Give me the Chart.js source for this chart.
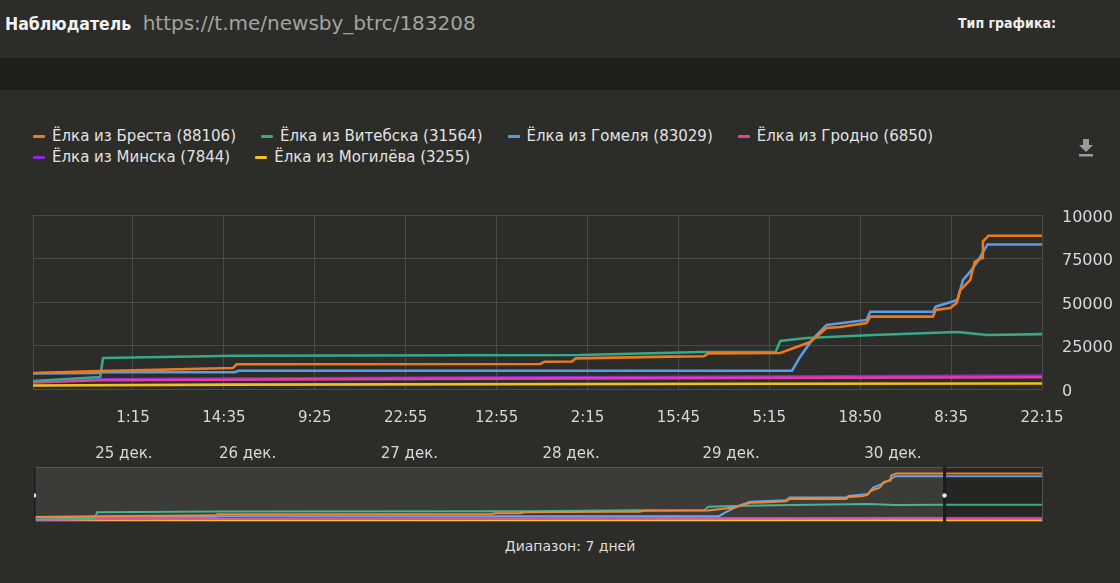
<!DOCTYPE html>
<html>
<head>
<meta charset="utf-8">
<script src="https://cdn.jsdelivr.net/npm/chart.js@4.4.0/dist/chart.umd.min.js"></script>
<style>
body { margin: 0; width: 1120px; height: 583px; background: #2c2c28; overflow: hidden; font-family: "DejaVu Sans", sans-serif; position: relative; }
#top { position: absolute; left: 0; top: 0; width: 1120px; height: 58px; background: #2c2c28; }
#title { position: absolute; left: 5px; top: 11px; font-size: 20px; color: #a3a3a0; white-space: nowrap; }
#title b { color: #f2f2f2; font-family: "DejaVu Sans Condensed", "DejaVu Sans", sans-serif; font-weight: 700; font-size: 17.5px; margin-right: 5px; }
#type { position: absolute; left: 958px; top: 15px; font-family: "DejaVu Sans Condensed", "DejaVu Sans", sans-serif; font-size: 14px; font-weight: 700; color: #eee; }
#band { position: absolute; left: 0; top: 58px; width: 1120px; height: 32px; background: #1e1f1a; }
#panel { position: absolute; left: 0; top: 90px; width: 1120px; height: 493px; background: #2c2c28; border-top-left-radius: 6px; }
#legend { position: absolute; left: 33px; top: 126px; width: 940px; display: flex; flex-wrap: wrap; column-gap: 25px; font-size: 15px; line-height: 21px; color: #e2e2e2; }
.item { display: flex; align-items: center; white-space: nowrap; }
.mark { width: 12px; height: 3px; margin-right: 7px; border-radius: 1px; }
#main { position: absolute; left: 0; top: 100px; }
#nav { position: absolute; left: 34px; top: 467px; }
#range { position: absolute; left: 0; width: 1140px; top: 538px; text-align: center; font-size: 14px; color: #dcdcdc; }
#dl { position: absolute; left: 1078px; top: 138px; }
</style>
</head>
<body>
<div id="top">
  <div id="title"><b>Наблюдатель</b> https://t.me/newsby_btrc/183208</div>
  <div id="type">Тип графика:</div>
</div>
<div id="band"></div>
<div id="panel"></div>
<div id="legend"></div>
<svg id="dl" width="16" height="20" viewBox="0 0 16 20">
  <path d="M5 1h6v6h4l-7 7-7-7h4z" fill="#9a9a98"/>
  <rect x="1" y="16" width="14" height="2.5" fill="#9a9a98"/>
</svg>
<canvas id="main" width="1120" height="365"></canvas>
<canvas id="nav" width="1009" height="55"></canvas>
<div id="range">Диапазон: 7 дней</div>

<script>
// sample index on x, votes on y
var brest = [[0, 9200], [7.4, 10300], [22.0, 12100], [22.4, 14200], [55.8, 14400], [56.3, 15700],
    [59.3, 15800], [59.7, 17600], [70.1, 18600], [73.8, 18800], [74.3, 20500], [82.2, 20700],
    [84.0, 24100], [85.5, 27000], [87.3, 35100], [88.8, 35600], [91.7, 37900], [92.1, 41600],
    [99.0, 41600], [99.3, 45400], [100.9, 46600], [101.6, 49400], [102.0, 56900], [103.1, 62600],
    [103.6, 73000], [104.4, 75300], [104.5, 84700], [105.1, 88106], [123, 88106]];

var vitebsk = [[0, 4600], [7.4, 6900], [7.7, 17800], [22.4, 19100], [60.2, 19500], [73.4, 21300],
    [81.7, 21300], [82.2, 27600], [85.1, 29300], [92.4, 31000], [101.7, 32800], [105.0, 31000],
    [111, 31564], [123, 31564]];

var gomel = [[0, 9000], [7.4, 9200], [7.7, 9600], [22.2, 9600], [22.6, 10500], [83.5, 10500],
    [84.4, 18600], [85.7, 28200], [87.3, 36800], [91.7, 39700], [92.1, 44400], [99.0, 44400],
    [99.3, 47300], [101.7, 51100], [102.3, 62600], [103.1, 67400], [103.9, 73200], [105.0, 83029],
    [123, 83029]];

var grodno = [[0, 3800], [7.4, 5000], [40, 5800], [80, 6400], [123, 6850]];

var minsk = [[0, 4400], [7.4, 5600], [40, 6500], [80, 7200], [123, 7844]];

var mogilev = [[0, 2000], [22, 2500], [80, 3000], [123, 3255]];

var seriesNames = ['Ёлка из Бреста (88106)', 'Ёлка из Витебска (31564)', 'Ёлка из Гомеля (83029)',
    'Ёлка из Гродно (6850)', 'Ёлка из Минска (7844)', 'Ёлка из Могилёва (3255)'];
var seriesColors = ['#ec7a1e', '#35a98b', '#5b9ce6', '#e2409c', '#8a2ae6', '#f1c21e'];
var seriesData = [brest, vitebsk, gomel, grodno, minsk, mogilev];

var timeTicks = ['1:15', '14:35', '9:25', '22:55', '12:55', '2:15', '15:45', '5:15', '18:50', '8:35', '22:15'];
var timeTickAt = [11, 21, 31, 41, 51, 61, 71, 81, 91, 101, 111];
var dayTicks = ['25 дек.', '26 дек.', '27 дек.', '28 дек.', '29 дек.', '30 дек.'];
var dayTickAt = [10.0, 23.6, 41.4, 59.2, 76.8, 94.6];
var yTicks = ['0', '25000', '50000', '75000', '10000'];
var yTickAt = [0, 25000, 50000, 75000, 100000];

var viewMax = 111;
var navMax = 123;

function makeDatasets(width) {
    var datasets = [];
    for (var i = 0; i != seriesData.length; i++) {
        datasets.push({
            label: seriesNames[i],
            data: seriesData[i].map(function (p) { return { x: p[0], y: p[1] }; }),
            borderColor: seriesColors[i],
            backgroundColor: seriesColors[i],
            borderWidth: width,
            pointRadius: 0,
            tension: 0,
            fill: false
        });
    }
    return datasets;
}

// legend drawn as html, built from the chart's own legend items
var htmlLegend = {
    id: 'htmlLegend',
    afterUpdate: function (chart) {
        var box = document.getElementById('legend');
        box.innerHTML = '';
        var items = chart.options.plugins.legend.labels.generateLabels(chart);
        items.forEach(function (item) {
            var div = document.createElement('div');
            div.className = 'item';
            div.innerHTML = '<span class="mark" style="background:' + item.strokeStyle + '"></span>' + item.text;
            box.appendChild(div);
        });
    }
};

var gridColor = '#4a4a46';
var tickColor = '#d8d8d6';
var tickFont = 'DejaVu Sans';

var mainConfig = {
    type: 'line',
    data: { datasets: makeDatasets(2.6) },
    options: {
        responsive: false,
        animation: false,
        events: [],
        layout: { padding: { top: 115, left: 33, right: 0, bottom: 0 } },
        plugins: {
            legend: { display: false },
            tooltip: { enabled: false }
        },
        scales: {
            x: {
                type: 'linear',
                min: 0,
                max: viewMax,
                grid: { color: gridColor, drawTicks: false },
                border: { display: false },
                afterBuildTicks: function (ax) {
                    ax.ticks = [{ value: 0 }].concat(timeTickAt.map(function (v) { return { value: v }; }));
                },
                afterFit: function (ax) { ax.height = 40; },
                ticks: {
                    autoSkip: false,
                    maxRotation: 0,
                    padding: 20,
                    color: tickColor,
                    font: { family: tickFont, size: 15 },
                    callback: function (v) {
                        var k = timeTickAt.indexOf(v);
                        return k < 0 ? '' : timeTicks[k];
                    }
                }
            },
            x2: {
                type: 'linear',
                position: 'bottom',
                min: 0,
                max: viewMax,
                grid: { display: false },
                border: { display: false },
                afterBuildTicks: function (ax) {
                    ax.ticks = dayTickAt.map(function (v) { return { value: v }; });
                },
                afterFit: function (ax) { ax.height = 36; },
                ticks: {
                    autoSkip: false,
                    maxRotation: 0,
                    padding: 8,
                    color: tickColor,
                    font: { family: tickFont, size: 15 },
                    callback: function (v) {
                        var k = dayTickAt.indexOf(v);
                        return k < 0 ? '' : dayTicks[k];
                    }
                }
            },
            y: {
                position: 'right',
                min: 0,
                max: 100000,
                grid: { color: gridColor, drawTicks: false },
                border: { display: false },
                afterBuildTicks: function (ax) {
                    ax.ticks = yTickAt.map(function (v) { return { value: v }; });
                },
                afterFit: function (ax) { ax.width = 78; },
                ticks: {
                    padding: 20,
                    labelOffset: 2.5,
                    color: tickColor,
                    font: { family: tickFont, size: 16 },
                    callback: function (v) {
                        var k = yTickAt.indexOf(v);
                        return k < 0 ? '' : yTicks[k];
                    }
                }
            }
        }
    },
    plugins: [htmlLegend]
};

var mainChart = new Chart(document.getElementById('main'), mainConfig);

// navigator: whole range, selected window shaded lighter
var navShade = {
    id: 'navShade',
    beforeDraw: function (chart) {
        var ctx = chart.ctx;
        ctx.save();
        ctx.fillStyle = '#252522';
        ctx.fillRect(0, 0, chart.width, chart.height);
        ctx.restore();
    },
    afterDatasetsDraw: function (chart) {
        var ctx = chart.ctx;
        var x0 = chart.scales.x.getPixelForValue(0);
        var x1 = chart.scales.x.getPixelForValue(viewMax);
        ctx.save();
        ctx.fillStyle = 'rgba(255,255,255,0.1)';
        ctx.fillRect(x0, 0, x1 - x0, chart.height);
        ctx.strokeStyle = '#55554f';
        ctx.lineWidth = 1;
        ctx.strokeRect(0.5, 0.5, chart.width - 1, chart.height - 1);
        [x0, x1].forEach(function (x) {
            ctx.fillStyle = '#1c1c1a';
            ctx.fillRect(x - 1.5, 0, 3, chart.height);
            ctx.fillStyle = '#e8e8e8';
            ctx.beginPath();
            ctx.arc(x, chart.height / 2 + 1, 2.2, 0, Math.PI * 2);
            ctx.fill();
        });
        ctx.restore();
    }
};

var navChart = new Chart(document.getElementById('nav'), {
    type: 'line',
    data: { datasets: makeDatasets(2) },
    options: {
        responsive: false,
        animation: false,
        events: [],
        layout: { padding: 0 },
        plugins: {
            legend: { display: false },
            tooltip: { enabled: false }
        },
        scales: {
            x: { type: 'linear', display: false, min: 0, max: navMax },
            y: { display: false, min: 0, max: 100000 }
        }
    },
    plugins: [navShade]
});
</script>
</body>
</html>
